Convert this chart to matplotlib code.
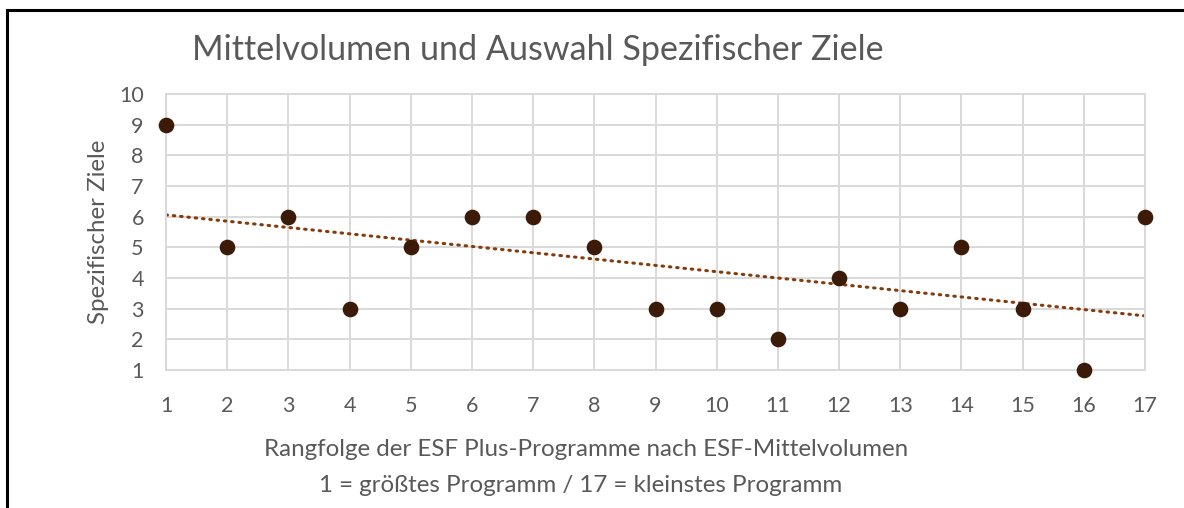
import numpy as np
import matplotlib.pyplot as plt
from matplotlib.patches import Rectangle

# data
rang = list(range(1, 18))
ziele = [9, 5, 6, 3, 5, 6, 6, 5, 3, 3, 2, 4, 3, 5, 3, 1, 6]
xticks = list(range(1, 18))
yticks = list(range(1, 11))

title = "Mittelvolumen und Auswahl Spezifischer Ziele"
xlabel1 = "Rangfolge der ESF Plus-Programme nach ESF-Mittelvolumen"
xlabel2 = "1 = größtes Programm / 17 = kleinstes Programm"
ylabel = "Spezifischer Ziele"

plt.rcParams['font.family'] = ['Lato', 'DejaVu Sans']
txt = '#595959'
W, H = 1184, 508

fig = plt.figure(figsize=(W / 100, H / 100), dpi=100)
ax = fig.add_axes([166 / W, 1 - 370 / H, (1145 - 166) / W, (370 - 94) / H])

# linear trendline (dotted)
slope, icpt = np.polyfit(rang, ziele, 1)
xs = np.array([rang[0], rang[-1]])
ax.plot(xs, slope * xs + icpt, linestyle=(0, (0.5, 1.9)), color='#843C0C',
        linewidth=2.2, dash_capstyle='round', zorder=2)

ax.scatter(rang, ziele, s=105, color='#3B1A07', zorder=3, clip_on=False)

ax.set_xlim(1, 17)
ax.set_ylim(1, 10)
ax.set_xticks(xticks)
ax.set_yticks(yticks)
ax.grid(True, color='#D9D9D9', linewidth=1.4)
ax.set_axisbelow(True)
for s in ax.spines.values():
    s.set_color('#D9D9D9')
    s.set_linewidth(1.4)
ax.tick_params(length=0, labelsize=15.5, labelcolor=txt)
ax.tick_params(axis='x', pad=19)
ax.tick_params(axis='y', pad=16)

ax.set_ylabel(ylabel, fontsize=17.3, color=txt, labelpad=7)

# x-axis title sits a bit left of the plot centre
fig.text(586 / W, 1 - 450 / H, xlabel1, fontsize=17.4, color=txt, ha='center', va='center')
fig.text(581 / W, 1 - 485 / H, xlabel2, fontsize=17.4, color=txt, ha='center', va='center')

fig.text(192 / W, 1 - 50 / H, title, fontsize=24.6, color=txt, ha='left', va='center')

# outer frame (only top and left edge visible in the crop)
fig.patches.append(Rectangle((7 / W, -0.1), 1.2, 1.1 - 10 / H, transform=fig.transFigure,
                             fill=False, edgecolor='black', linewidth=2.2))

fig.savefig('out.png', dpi=100, facecolor='white')
